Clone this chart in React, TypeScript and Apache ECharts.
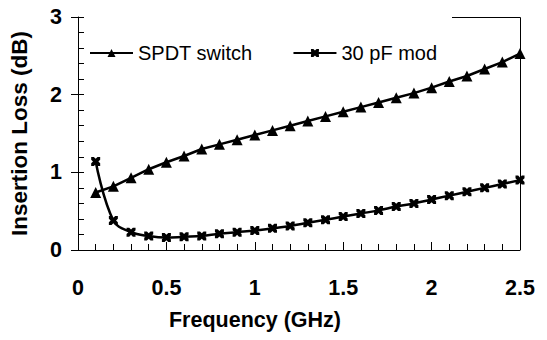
import React, { useEffect, useRef } from "react";
import * as echarts from "echarts";

const freqs = [0.1, 0.2, 0.3, 0.4, 0.5, 0.6, 0.7, 0.8, 0.9, 1.0, 1.1, 1.2, 1.3, 1.4, 1.5, 1.6, 1.7, 1.8, 1.9, 2.0, 2.1, 2.2, 2.3, 2.4, 2.5];
const spdtLoss = [0.74, 0.82, 0.93, 1.04, 1.13, 1.21, 1.3, 1.36, 1.42, 1.48, 1.54, 1.6, 1.66, 1.72, 1.78, 1.84, 1.9, 1.96, 2.02, 2.09, 2.17, 2.24, 2.33, 2.42, 2.53];
const modLoss = [1.14, 0.38, 0.23, 0.18, 0.16, 0.17, 0.18, 0.21, 0.23, 0.25, 0.28, 0.31, 0.35, 0.39, 0.43, 0.47, 0.51, 0.56, 0.6, 0.65, 0.7, 0.75, 0.8, 0.85, 0.9];
const seriesNames = ["SPDT switch", "30 pF mod"];
const xTitle = "Frequency (GHz)";
const yTitle = "Insertion Loss (dB)";

const FONT = "'Liberation Sans', Arial, sans-serif";
const XMARK = "path://M0,0 L3,0 L5,2 L7,0 L10,0 L10,3 L8,5 L10,7 L10,10 L7,10 L5,8 L3,10 L0,10 L0,7 L2,5 L0,3 Z";

export default function App() {
  const ref = useRef<HTMLDivElement>(null);
  useEffect(() => {
    if (!ref.current) return;
    const chart = echarts.init(ref.current, null, { renderer: "svg" });
    const labelStyle = { color: "#000", fontFamily: FONT, fontWeight: "bold" as const, fontSize: 21.5 };
    chart.setOption({
      animation: false,
      backgroundColor: "#fff",
      grid: { left: 77, right: 27, top: 17, bottom: 90 },
      legend: {
        left: 84,
        top: 38,
        itemWidth: 43,
        itemHeight: 10,
        itemGap: 40,
        textStyle: { color: "#000", fontFamily: FONT, fontSize: 20 },
        data: seriesNames,
      },
      xAxis: [
        {
          type: "value",
          min: 0,
          max: 2.5,
          interval: 0.5,
          axisLine: { show: true, lineStyle: { color: "#000", width: 1 } },
          axisTick: { show: true, inside: true, length: 8, lineStyle: { color: "#000" } },
          axisLabel: { ...labelStyle, margin: 27 },
          splitLine: { show: false },
          name: xTitle,
          nameLocation: "middle",
          nameGap: 59,
          nameTextStyle: { ...labelStyle, padding: [0, 88, 0, 0] },
        },
        {
          type: "value",
          position: "bottom",
          min: 0,
          max: 2.5,
          interval: 0.1,
          axisLine: { show: false },
          axisTick: { show: true, inside: true, length: 6, lineStyle: { color: "#000" } },
          axisLabel: { show: false },
          splitLine: { show: false },
        },
      ],
      yAxis: [
        {
          type: "value",
          min: 0,
          max: 3,
          interval: 1,
          axisLine: { show: true, lineStyle: { color: "#000", width: 1 } },
          axisTick: { show: true, inside: false, length: 7, lineStyle: { color: "#000" } },
          axisLabel: { ...labelStyle, margin: 16 },
          splitLine: { show: false },
          name: yTitle,
          nameLocation: "middle",
          nameGap: 47,
          nameRotate: 90,
          nameTextStyle: { ...labelStyle, fontSize: 22.5 },
        },
        {
          type: "value",
          position: "left",
          min: 0,
          max: 3,
          interval: 0.2,
          axisLine: { show: false },
          axisTick: { show: true, inside: true, length: 6, lineStyle: { color: "#000" } },
          axisLabel: { show: false },
          splitLine: { show: false },
        },
      ],
      graphic: [
        { type: "line", shape: { x1: 452, y1: 17.5, x2: 520.5, y2: 17.5 }, style: { stroke: "#000", lineWidth: 1 } },
        { type: "line", shape: { x1: 520.5, y1: 17.5, x2: 520.5, y2: 250 }, style: { stroke: "#000", lineWidth: 1 } },
      ],
      series: [
        {
          name: seriesNames[0],
          type: "line",
          data: freqs.map((f, i) => [f, spdtLoss[i]]),
          symbol: "triangle",
          symbolSize: 11,
          itemStyle: { color: "#000" },
          lineStyle: { color: "#000", width: 2.5 },
          z: 3,
        },
        {
          name: seriesNames[1],
          type: "line",
          data: freqs.map((f, i) => [f, modLoss[i]]),
          smooth: 0.4,
          symbol: XMARK,
          symbolSize: 9,
          itemStyle: { color: "#000" },
          lineStyle: { color: "#000", width: 2.5 },
          z: 3,
        },
      ],
    });
    return () => chart.dispose();
  }, []);
  return <div ref={ref} style={{ width: 547, height: 340, position: "absolute", left: 0, top: 0 }} />;
}
